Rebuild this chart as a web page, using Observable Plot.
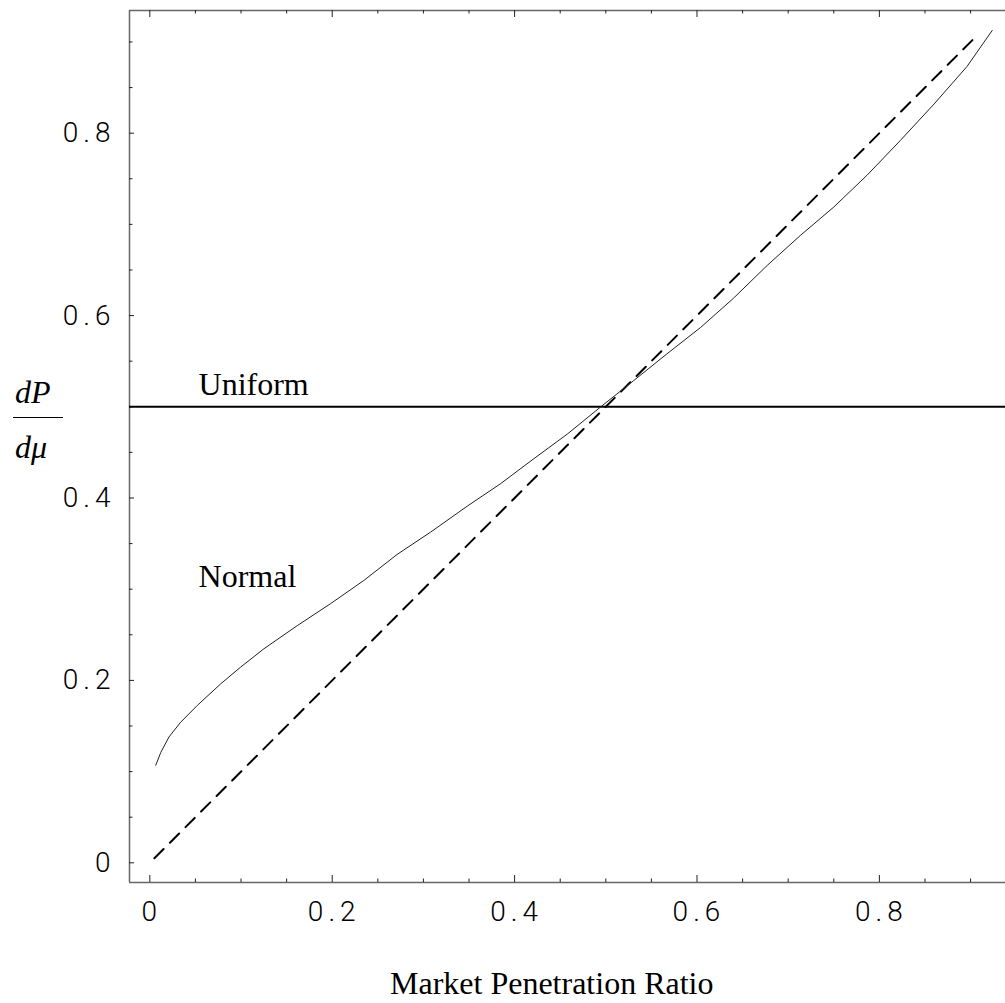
<!DOCTYPE html>
<html>
<head>
<meta charset="utf-8">
<script src="https://cdn.jsdelivr.net/npm/d3@7"></script>
<script src="https://cdn.jsdelivr.net/npm/@observablehq/plot@0.6"></script>
<style>
  body { margin: 0; background: #fff; }
  #wrap { position: relative; width: 1005px; height: 1003px; background: #fff; }
  #wrap svg { position: absolute; left: 0; top: 0; }
  .serif { position: absolute; font-family: "Liberation Serif", "Times New Roman", serif; font-size: 32px; line-height: 1; color: #000; white-space: nowrap; }
  .ital { font-style: italic; }
  .bar { position: absolute; background: #000; }
  .ticklab text { font-family: Roboto, "Liberation Mono", monospace; font-weight: 300; letter-spacing: 5px; }
</style>
</head>
<body>
<div id="wrap">
  <div class="serif ital" style="left:15px; top:376px;">dP</div>
  <div class="bar" style="left:13px; top:416.5px; width:50px; height:1.5px;"></div>
  <div class="serif ital" style="left:15px; top:431px;">dμ</div>
  <div class="serif" style="left:390px; top:967px;">Market Penetration Ratio</div>
</div>
<script>
// ---- data ----
const xDomain = [-0.0223, 0.9383];
const yDomain = [-0.0216, 0.9345];
const majorTicks = [0, 0.2, 0.4, 0.6, 0.8];
const minorTicks = [0.05, 0.1, 0.15, 0.25, 0.3, 0.35, 0.45, 0.5, 0.55, 0.65, 0.7, 0.75, 0.85, 0.9];

const normalX = [0.0065, 0.012, 0.021, 0.0337, 0.052, 0.0775, 0.0995, 0.125, 0.1616, 0.198, 0.2346, 0.271, 0.3078,
                 0.348, 0.3845, 0.421, 0.4577, 0.494, 0.5307, 0.567, 0.604, 0.640, 0.677, 0.7135, 0.75, 0.7866,
                 0.823, 0.860, 0.896, 0.9237];
const normalY = [0.107, 0.121, 0.138, 0.154, 0.1725, 0.196, 0.2145, 0.2346, 0.260, 0.284, 0.3095, 0.338, 0.3625,
                 0.391, 0.4156, 0.443, 0.470, 0.4996, 0.5288, 0.558, 0.587, 0.619, 0.655, 0.688, 0.719, 0.754,
                 0.792, 0.832, 0.873, 0.9126];

const uniformY = 0.5;

const equalX = [0.005, 0.902];
const equalY = [0.005, 0.902];

const labelNames = ["Uniform", "Normal"];
const labelX = [0.0534, 0.0534];
const labelY = [0.5124, 0.302];

// ---- layout ----
const W = 1005, H = 1003, mL = 129, mR = 0, mT = 10, mB = 121;
const frameW = W - mL - mR, frameH = H - mT - mB;

// ---- build tables ----
const normal = normalX.map((x, i) => ({x, y: normalY[i]}));
const equal = equalX.map((x, i) => ({x, y: equalY[i]}));
const labels = labelNames.map((name, i) => ({name, x: labelX[i], y: labelY[i]}));

const fmt = d => String(d);
const axisColor = "#666";
const tickColor = "#222";

const bottomTicks = (ticks, len) => Plot.ruleX(ticks, {stroke: tickColor, strokeWidth: 1, insetTop: frameH - len});
const topTicks = (ticks, len) => Plot.ruleX(ticks, {stroke: tickColor, strokeWidth: 1, insetBottom: frameH - len});
const leftTicks = (ticks, len) => Plot.ruleY(ticks, {stroke: tickColor, strokeWidth: 1, insetRight: frameW - len});

const chart = Plot.plot({
  width: W,
  height: H,
  marginLeft: mL,
  marginRight: mR,
  marginTop: mT,
  marginBottom: mB,
  x: {domain: xDomain},
  y: {domain: yDomain},
  style: {fontFamily: "'Liberation Mono', monospace", fontSize: "28px", color: "#000", background: "transparent", overflow: "visible"},
  marks: [
    // frame lines (left, bottom, top)
    Plot.ruleX([xDomain[0]], {stroke: axisColor, strokeWidth: 1.5}),
    Plot.ruleY([yDomain[0]], {stroke: axisColor, strokeWidth: 1.5}),
    Plot.ruleY([yDomain[1]], {stroke: axisColor, strokeWidth: 1.5}),
    // inward ticks
    bottomTicks(majorTicks, 7),
    bottomTicks(minorTicks, 3.5),
    topTicks(majorTicks, 7),
    topTicks(minorTicks, 3.5),
    leftTicks(majorTicks, 5),
    leftTicks(minorTicks, 3.5),
    // tick labels
    Plot.axisX(majorTicks, {anchor: "bottom", tickSize: 0, tickPadding: 19, label: null, tickFormat: fmt, className: "ticklab", dx: 2}),
    Plot.axisY(majorTicks, {anchor: "left", tickSize: 0, tickPadding: 14, label: null, tickFormat: fmt, className: "ticklab"}),
    // series
    Plot.ruleY([uniformY], {stroke: "#000", strokeWidth: 2}),
    Plot.line(equal, {x: "x", y: "y", stroke: "#000", strokeWidth: 2, strokeDasharray: "13,9"}),
    Plot.line(normal, {x: "x", y: "y", stroke: "#222", strokeWidth: 1}),
    // labels
    Plot.text(labels, {x: "x", y: "y", text: "name", textAnchor: "start", lineAnchor: "bottom",
      fontFamily: "'Liberation Serif', 'Times New Roman', serif", fontSize: 32, fill: "#000"})
  ]
});
document.getElementById("wrap").prepend(chart);
</script>
</body>
</html>
